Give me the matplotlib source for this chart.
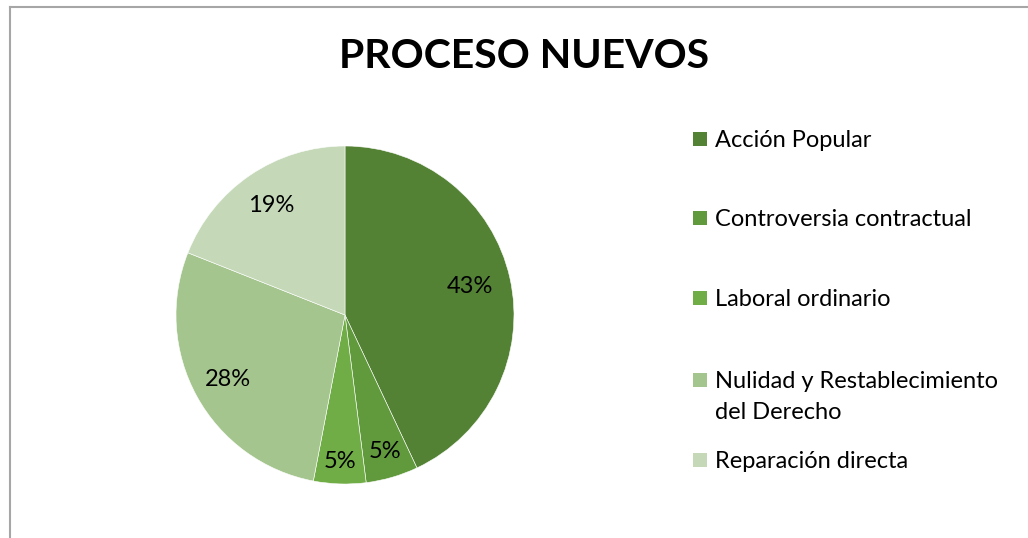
import numpy as np
import matplotlib.pyplot as plt
from matplotlib.patches import Rectangle

plt.rcParams['font.family'] = ['Lato', 'DejaVu Sans']

# data
categories = ['Acción Popular', 'Controversia contractual', 'Laboral ordinario',
              'Nulidad y Restablecimiento\ndel Derecho', 'Reparación directa']
percentages = [43, 5, 5, 28, 19]
colors = ['#548235', '#619a3d', '#70ad47', '#a4c58d', '#c5d9b9']

W, H = 1028, 538
fig = plt.figure(figsize=(W / 100, H / 100), dpi=100)

# pie axes: centre (345, 315) px, radius 169 px
cx, cy, r = 345, 315, 169
ax = fig.add_axes([(cx - r) / W, (H - cy - r) / H, 2 * r / W, 2 * r / H])
wedges, texts, autotexts = ax.pie(
    percentages, colors=colors, startangle=90, counterclock=False,
    autopct='%1.0f%%', pctdistance=0.78,
    wedgeprops=dict(edgecolor='white', linewidth=0.4),
    textprops=dict(fontsize=17, color='black'))
ax.set_xlim(-1, 1)
ax.set_ylim(-1, 1)

# Excel pushes the labels of the thin slices a bit outwards
label_dist = [0.76, 0.84, 0.87, 0.79, 0.78]
for w, t, d in zip(wedges, autotexts, label_dist):
    mid = np.deg2rad((w.theta1 + w.theta2) / 2)
    t.set_position((d * np.cos(mid), d * np.sin(mid)))

# title
fig.text(524 / W, 1 - 57 / H, 'PROCESO NUEVOS', ha='center', va='center',
         fontsize=29.5, fontweight='bold')

# legend drawn by hand to follow the Excel layout
legend_y = [139, 218, 298, 380, 460]
for lab, col, y in zip(categories, colors, legend_y):
    fig.add_artist(Rectangle((693 / W, 1 - (y + 7) / H), 14 / W, 14 / H,
                             transform=fig.transFigure, facecolor=col,
                             edgecolor='none'))
    for i, line in enumerate(lab.split('\n')):
        fig.text(715 / W, 1 - (y + 8 + 31 * i) / H, line, ha='left',
                 va='baseline', fontsize=17)

# chart area border
fig.add_artist(plt.Line2D([10 / W, 10 / W], [0, 1 - 7 / H], color='#a6a6a6',
                          linewidth=1.5, transform=fig.transFigure))
fig.add_artist(plt.Line2D([10 / W, 1], [1 - 7 / H, 1 - 7 / H], color='#a6a6a6',
                          linewidth=1.5, transform=fig.transFigure))

# clipped header text from the page above
fig.text(-2 / W, 1 + 8 / H, 'sostenible', ha='left', va='center',
         fontsize=14, fontweight='bold', color='#3a8ca8')

fig.savefig('out.png', dpi=100)
